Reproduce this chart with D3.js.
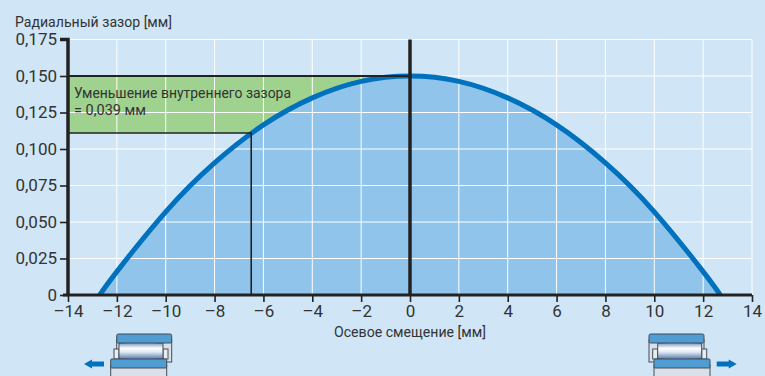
<!DOCTYPE html>
<html>
<head>
<meta charset="utf-8">
<title>Радиальный зазор</title>
<script src="https://d3js.org/d3.v7.min.js"></script>
<style>
  html, body { margin: 0; padding: 0; background: #d0e6f7; }
  svg { display: block; }
  .lab { font-family: "Roboto", sans-serif; fill: #333; font-size: 15.5px; }
  .tick text { font-family: "Roboto", sans-serif; font-size: 17px; fill: #333; }
</style>
</head>
<body>
<svg id="chart" width="765" height="376"></svg>
<script>
// values
const shift = [-12.7, -12, -10, -8, -6, -4, -2, 0, 2, 4, 6, 8, 10, 12, 12.7];
const clearance = [0, 0.016, 0.057, 0.0905, 0.1165, 0.135, 0.1463, 0.150, 0.1463, 0.135, 0.1165, 0.0905, 0.057, 0.016, 0];
const xTicks = [-14, -12, -10, -8, -6, -4, -2, 0, 2, 4, 6, 8, 10, 12, 14];
const yTicks = [0, 0.025, 0.05, 0.075, 0.1, 0.125, 0.15, 0.175];
const markX = -6.5, markY = 0.111, topY = 0.15;

const svg = d3.select("#chart");
const x = d3.scaleLinear().domain([-14, 14]).range([68, 752]);
const y = d3.scaleLinear().domain([0, 0.175]).range([295, 39.5]);
const pts = shift.map((d, i) => [d, clearance[i]]);

const defs = svg.append("defs");
defs.append("clipPath").attr("id", "plot").append("rect")
  .attr("x", x(-14)).attr("y", y(0.175)).attr("width", x(14) - x(-14)).attr("height", y(0) - y(0.175));

// green band, blue area on top
svg.append("rect")
  .attr("x", x(-14)).attr("y", y(topY))
  .attr("width", x(0) - x(-14)).attr("height", y(markY) - y(topY))
  .attr("fill", "#9fd18f");

const area = d3.area().x(d => x(d[0])).y0(y(0)).y1(d => y(d[1])).curve(d3.curveNatural);
svg.append("path").attr("d", area(pts)).attr("fill", "#90c4ea");

// grid
svg.append("g").selectAll("line").data(xTicks.slice(1)).join("line")
  .attr("x1", d => x(d)).attr("x2", d => x(d))
  .attr("y1", y(0.175)).attr("y2", y(0))
  .attr("stroke", "#fff").attr("stroke-width", 1);
svg.append("g").selectAll("line").data(yTicks.slice(1)).join("line")
  .attr("x1", x(-14)).attr("x2", x(14))
  .attr("y1", d => y(d)).attr("y2", d => y(d))
  .attr("stroke", "#fff").attr("stroke-width", 1);

// curve
const line = d3.line().x(d => x(d[0])).y(d => y(d[1])).curve(d3.curveNatural);
svg.append("path").attr("d", line(pts)).attr("clip-path", "url(#plot)")
  .attr("fill", "none").attr("stroke", "#0071bc").attr("stroke-width", 5);

// marker lines
svg.append("line").attr("x1", x(-14)).attr("x2", x(0)).attr("y1", y(topY)).attr("y2", y(topY))
  .attr("stroke", "#222").attr("stroke-width", 2);
svg.append("path")
  .attr("d", `M${x(-14)},${y(markY)}H${x(markX)}V${y(0)}`)
  .attr("fill", "none").attr("stroke", "#222").attr("stroke-width", 1.6);
svg.append("line").attr("x1", x(0)).attr("x2", x(0)).attr("y1", y(0.175)).attr("y2", y(0))
  .attr("stroke", "#222").attr("stroke-width", 3.5);

// axes
const yAxis = d3.axisLeft(y).tickValues(yTicks).tickSize(8).tickPadding(3)
  .tickFormat(d => d === 0 ? "0" : d3.format(".3f")(d).replace(".", ","));
const xAxis = d3.axisBottom(x).tickValues(xTicks).tickSize(7).tickPadding(3)
  .tickFormat(d => (d < 0 ? "–" + (-d) : d));

const gy = svg.append("g").attr("transform", `translate(${x(-14)},0)`).call(yAxis);
const gx = svg.append("g").attr("transform", `translate(0,${y(0)})`).call(xAxis);
[gy, gx].forEach(g => {
  g.selectAll(".tick line").attr("stroke", "#222").attr("stroke-width", 1.6);
  g.select(".domain").remove();
});
gy.append("path").attr("d", `M-8,${y(0.175)}H0V${y(0)}`).attr("fill", "none").attr("stroke", "#222").attr("stroke-width", 3.5);
gx.append("line").attr("x1", x(-14) - 5).attr("x2", x(14)).attr("y1", 0).attr("y2", 0).attr("stroke", "#222").attr("stroke-width", 3);

// texts, squeezed to the condensed widths of the original
function label(px, py, width, txt) {
  svg.append("text").attr("class", "lab").attr("x", px).attr("y", py)
    .attr("textLength", width).attr("lengthAdjust", "spacingAndGlyphs").text(txt);
}
label(15, 27, 157, "Радиальный зазор [мм]");
label(334, 337, 152, "Осевое смещение [мм]");
label(74, 98, 217, "Уменьшение внутреннего зазора");
label(74, 115, 72, "= 0,039 мм");

// bearing pictograms
const grad = defs.append("linearGradient").attr("id", "roller").attr("x1", 0).attr("x2", 0).attr("y1", 0).attr("y2", 1);
[[0, "#5c84b4"], [0.35, "#ffffff"], [0.55, "#e4ebf4"], [1, "#3f6ea6"]].forEach(s =>
  grad.append("stop").attr("offset", s[0]).attr("stop-color", s[1]));

function bearing(g) {
  const ink = "#444c55";
  g.append("rect").attr("x", 116.7).attr("y", 340).attr("width", 55).attr("height", 22)
    .attr("fill", "#d9e0ea").attr("stroke", ink).attr("stroke-width", 1);
  g.append("rect").attr("x", 110.7).attr("y", 365).attr("width", 56).attr("height", 12)
    .attr("fill", "#d9e0ea").attr("stroke", ink).attr("stroke-width", 1);
  g.append("rect").attr("x", 114).attr("y", 349).attr("width", 5).attr("height", 10).attr("fill", "#e8edf3").attr("stroke", ink);
  g.append("rect").attr("x", 163).attr("y", 349).attr("width", 5).attr("height", 10).attr("fill", "#e8edf3").attr("stroke", ink);
  g.append("path").attr("d", "M119,343Q141,341 163,343V359Q141,361 119,359Z")
    .attr("fill", "url(#roller)").attr("stroke", ink).attr("stroke-width", 1);
  g.append("rect").attr("x", 116.7).attr("y", 334).attr("width", 55).attr("height", 9).attr("rx", 1.5)
    .attr("fill", "#4f9dd2").attr("stroke", ink).attr("stroke-width", 1);
  g.append("rect").attr("x", 110.7).attr("y", 359).attr("width", 56).attr("height", 9).attr("rx", 1)
    .attr("fill", "#4f9dd2").attr("stroke", ink).attr("stroke-width", 1);
  g.append("path").attr("d", "M84,364L92,359.5V361.5H104V366.5H92V368.5Z").attr("fill", "#0071bc");
}
svg.append("g").call(bearing);
svg.append("g").attr("transform", "translate(820.7,0) scale(-1,1)").call(bearing);
</script>
</body>
</html>
